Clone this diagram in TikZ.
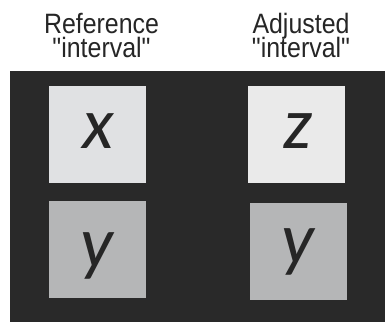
\documentclass[tikz,border=0pt]{standalone}
\usepackage{fontspec}
\newfontfamily\headfont[FakeStretch=0.89]{Liberation Sans}
\newfontfamily\letfont{Carlito}
\newcommand\tightlines{\lineskiplimit=-100pt\relax\lineskip=0pt\relax}
\definecolor{bgdark}{HTML}{292929}
\definecolor{toplA}{HTML}{E0E1E3}
\definecolor{toplB}{HTML}{EAEAEA}
\definecolor{botgray}{HTML}{B5B6B7}
\definecolor{ink}{HTML}{262626}
\begin{document}
\begin{tikzpicture}[x=1pt,y=-1pt,
  headtxt/.style={inner sep=0pt,anchor=base,align=center,text=ink,font=\headfont\fontsize{28}{24}\selectfont\tightlines},
  sq/.style={draw=none,inner sep=0pt,minimum size=97pt,anchor=north west},
  lettxt/.style={inner sep=0pt,anchor=base,text=ink,font=\letfont\itshape\fontsize{73}{80}\selectfont}]
\useasboundingbox[fill=white] (0,0) rectangle (385,322);
\fill[bgdark] (10,71) rectangle (385,322);
\node[headtxt] (refH) at (101.5,57) {Reference\\"interval"};
\node[headtxt] (adjH) at (301,57) {Adjusted\\"interval"};
\node[sq,fill=toplA] (lt) at (49,86) {};
\node[sq,fill=botgray] (lb) at (49,200.5) {};
\node[sq,fill=toplB] (rt) at (248,85.5) {};
\node[sq,fill=botgray] (rb) at (250,202.5) {};
\node[lettxt] (lx) at (98,148) {x};
\node[lettxt] (ly) at (97,267) {y};
\node[lettxt] (rz) at (297.5,148) {z};
\node[lettxt] (ry) at (298,263) {y};
\end{tikzpicture}
\end{document}
